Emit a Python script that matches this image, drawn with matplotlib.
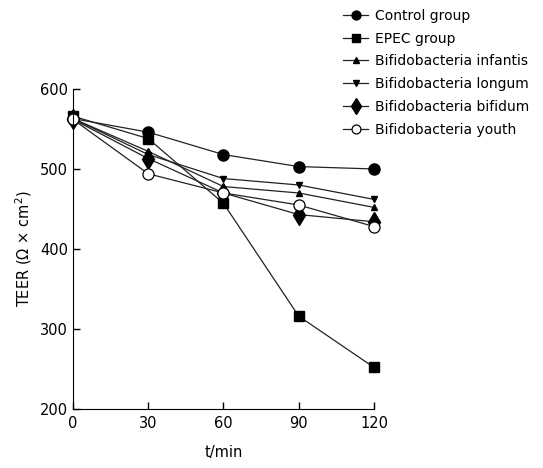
import matplotlib.pyplot as plt

# Datos
t = [0, 30, 60, 90, 120]
control = [563, 546, 518, 503, 500]
epec = [566, 538, 457, 316, 252]
infantis = [563, 522, 478, 470, 452]
longum = [563, 518, 488, 480, 462]
bifidum = [562, 513, 470, 443, 434]
youth = [562, 494, 470, 455, 428]

labels = ['Control group', 'EPEC group', 'Bifidobacteria infantis',
          'Bifidobacteria longum', 'Bifidobacteria bifidum', 'Bifidobacteria youth']


def main():
    plt.rcParams['font.family'] = 'DejaVu Sans'
    fig = plt.figure(figsize=(5.43, 4.68), dpi=100)
    ax = fig.add_axes([0.1344, 0.1261, 0.5543, 0.6838])

    line_kw = dict(color='#222222', lw=0.9)
    ax.plot(t, control, marker='o', ms=8, mfc='black', mec='black', label=labels[0], **line_kw)
    ax.plot(t, epec, marker='s', ms=6.5, mfc='black', mec='black', label=labels[1], **line_kw)
    ax.plot(t, infantis, marker='^', ms=5, mfc='black', mec='black', label=labels[2], **line_kw)
    ax.plot(t, longum, marker='v', ms=5, mfc='black', mec='black', label=labels[3], **line_kw)
    ax.plot(t, bifidum, marker='d', ms=10, mfc='black', mec='black', label=labels[4], **line_kw)
    ax.plot(t, youth, marker='o', ms=8, mfc='white', mec='black', mew=0.9, label=labels[5], **line_kw)

    ax.set_xlim(0, 120)
    ax.set_ylim(200, 600)
    ax.set_xticks([0, 30, 60, 90, 120])
    ax.set_yticks([200, 300, 400, 500, 600])
    ax.tick_params(direction='in', length=5, width=1, labelsize=10.5)
    ax.tick_params(axis='x', pad=5)
    ax.spines['top'].set_visible(False)
    ax.spines['right'].set_visible(False)
    for ln in ax.lines:
        ln.set_clip_on(False)

    ax.set_xlabel('t/min', fontsize=10.5, labelpad=10)
    ax.set_ylabel('TEER (Ω × cm$^2$)', fontsize=10.5)

    ax.legend(loc='upper left', bbox_to_anchor=(0.622, 0.993), bbox_transform=fig.transFigure,
              frameon=False, fontsize=10, handlelength=1.8, labelspacing=0.63,
              handletextpad=0.5, borderaxespad=0, markerscale=0.8)

    fig.savefig('out.png', dpi=100)


if __name__ == '__main__':
    main()
